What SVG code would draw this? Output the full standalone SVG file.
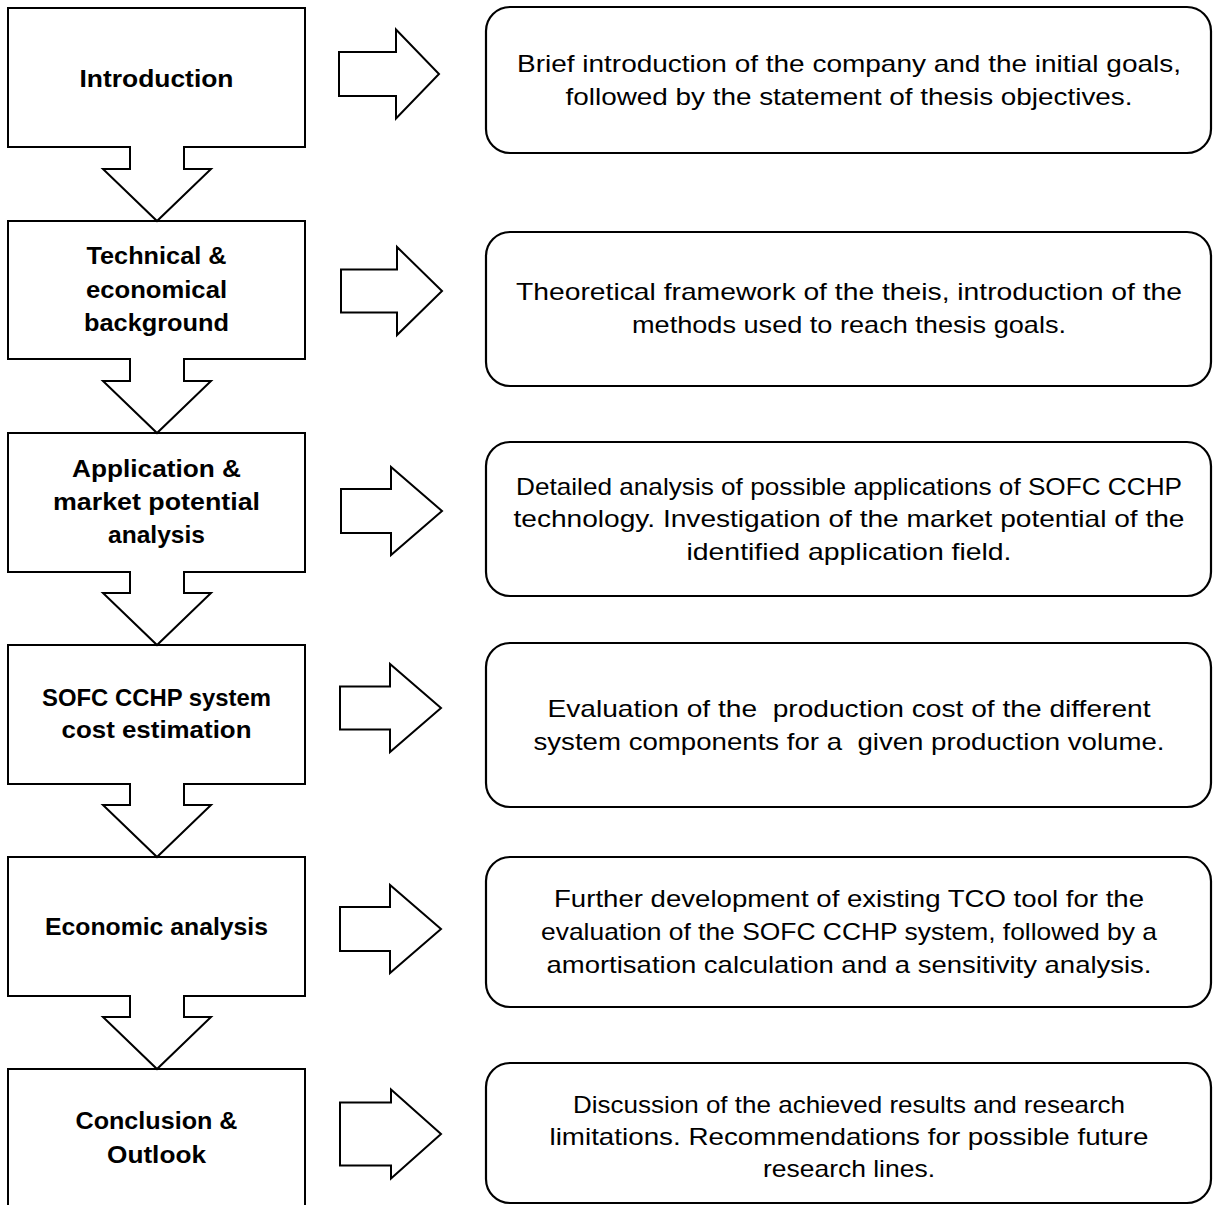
<svg xmlns="http://www.w3.org/2000/svg" width="1213" height="1205" viewBox="0 0 1213 1205">
<style>
.box{fill:#fff;stroke:#000;stroke-width:2}
.rbox{fill:#fff;stroke:#000;stroke-width:2.2}
.arr{fill:#fff;stroke:#000;stroke-width:2;stroke-linejoin:miter}
.lt{font-family:"Liberation Sans",Arial,sans-serif;font-weight:bold;font-size:24px;text-anchor:middle;fill:#000}
.rt{font-family:"Liberation Sans",Arial,sans-serif;font-size:24px;text-anchor:middle;fill:#000}
</style>
<rect width="1213" height="1205" fill="#fff"/>

<g id="step-introduction">
<rect class="box" x="8" y="8" width="297" height="139"/>
<text class="lt" x="156.5" y="87" textLength="154" lengthAdjust="spacingAndGlyphs">Introduction</text>
</g>
<g id="step-technical">
<rect class="box" x="8" y="221" width="297" height="138"/>
<text class="lt" x="156.5" y="264" textLength="140" lengthAdjust="spacingAndGlyphs">Technical &amp;</text>
<text class="lt" x="156.5" y="298" textLength="141" lengthAdjust="spacingAndGlyphs">economical</text>
<text class="lt" x="156.5" y="331" textLength="145" lengthAdjust="spacingAndGlyphs">background</text>
</g>
<g id="step-application">
<rect class="box" x="8" y="433" width="297" height="139"/>
<text class="lt" x="156.5" y="477" textLength="169" lengthAdjust="spacingAndGlyphs">Application &amp;</text>
<text class="lt" x="156.5" y="510" textLength="207" lengthAdjust="spacingAndGlyphs">market potential</text>
<text class="lt" x="156.5" y="543" textLength="97" lengthAdjust="spacingAndGlyphs">analysis</text>
</g>
<g id="step-cost">
<rect class="box" x="8" y="645" width="297" height="139"/>
<text class="lt" x="156.5" y="706" textLength="229" lengthAdjust="spacingAndGlyphs">SOFC CCHP system</text>
<text class="lt" x="156.5" y="738" textLength="190" lengthAdjust="spacingAndGlyphs">cost estimation</text>
</g>
<g id="step-economic">
<rect class="box" x="8" y="857" width="297" height="139"/>
<text class="lt" x="156.5" y="935" textLength="223" lengthAdjust="spacingAndGlyphs">Economic analysis</text>
</g>
<g id="step-conclusion">
<rect class="box" x="8" y="1069" width="297" height="150"/>
<text class="lt" x="156.5" y="1129" textLength="162" lengthAdjust="spacingAndGlyphs">Conclusion &amp;</text>
<text class="lt" x="156.5" y="1163" textLength="99" lengthAdjust="spacingAndGlyphs">Outlook</text>
</g>

<g id="desc-introduction">
<rect class="rbox" x="486" y="7" width="725" height="146" rx="24" ry="24"/>
<text class="rt" x="849" y="72" textLength="664" lengthAdjust="spacingAndGlyphs">Brief introduction of the company and the initial goals,</text>
<text class="rt" x="849" y="105" textLength="567" lengthAdjust="spacingAndGlyphs">followed by the statement of thesis objectives.</text>
</g>
<g id="desc-technical">
<rect class="rbox" x="486" y="232" width="725" height="154" rx="24" ry="24"/>
<text class="rt" x="849" y="300" textLength="666" lengthAdjust="spacingAndGlyphs">Theoretical framework of the theis, introduction of the</text>
<text class="rt" x="849" y="333" textLength="434" lengthAdjust="spacingAndGlyphs">methods used to reach thesis goals.</text>
</g>
<g id="desc-application">
<rect class="rbox" x="486" y="442" width="725" height="154" rx="24" ry="24"/>
<text class="rt" x="849" y="495" textLength="666" lengthAdjust="spacingAndGlyphs">Detailed analysis of possible applications of SOFC CCHP</text>
<text class="rt" x="849" y="527" textLength="671" lengthAdjust="spacingAndGlyphs">technology. Investigation of the market potential of the</text>
<text class="rt" x="849" y="560" textLength="325" lengthAdjust="spacingAndGlyphs">identified application field.</text>
</g>
<g id="desc-cost">
<rect class="rbox" x="486" y="643" width="725" height="164" rx="24" ry="24"/>
<text class="rt" x="849" y="717" textLength="603" lengthAdjust="spacingAndGlyphs" xml:space="preserve">Evaluation of the  production cost of the different</text>
<text class="rt" x="849" y="750" textLength="631" lengthAdjust="spacingAndGlyphs" xml:space="preserve">system components for a  given production volume.</text>
</g>
<g id="desc-economic">
<rect class="rbox" x="486" y="857" width="725" height="150" rx="24" ry="24"/>
<text class="rt" x="849" y="907" textLength="590" lengthAdjust="spacingAndGlyphs">Further development of existing TCO tool for the</text>
<text class="rt" x="849" y="940" textLength="616" lengthAdjust="spacingAndGlyphs">evaluation of the SOFC CCHP system, followed by a</text>
<text class="rt" x="849" y="973" textLength="605" lengthAdjust="spacingAndGlyphs">amortisation calculation and a sensitivity analysis.</text>
</g>
<g id="desc-conclusion">
<rect class="rbox" x="486" y="1063" width="725" height="140" rx="24" ry="24"/>
<text class="rt" x="849" y="1113" textLength="552" lengthAdjust="spacingAndGlyphs">Discussion of the achieved results and research</text>
<text class="rt" x="849" y="1145" textLength="599" lengthAdjust="spacingAndGlyphs">limitations. Recommendations for possible future</text>
<text class="rt" x="849" y="1177" textLength="172" lengthAdjust="spacingAndGlyphs">research lines.</text>
</g>

<g id="connectors">
<path class="arr" d="M130,146 L130,169 L103,169 L157,221 L211,169 L184,169 L184,146"/>
<path class="arr" d="M130,358 L130,381 L103,381 L157,433 L211,381 L184,381 L184,358"/>
<path class="arr" d="M130,571 L130,593 L103,593 L157,645 L211,593 L184,593 L184,571"/>
<path class="arr" d="M130,783 L130,805 L103,805 L157,857 L211,805 L184,805 L184,783"/>
<path class="arr" d="M130,995 L130,1017 L103,1017 L157,1069 L211,1017 L184,1017 L184,995"/>
<path class="arr" d="M339,52 L396,52 L396,29.5 L439,74 L396,118.5 L396,96 L339,96 Z"/>
<path class="arr" d="M341,269.5 L397,269.5 L397,247 L442,291 L397,335 L397,312.5 L341,312.5 Z"/>
<path class="arr" d="M341,489 L391,489 L391,467 L442,511 L391,555 L391,533 L341,533 Z"/>
<path class="arr" d="M340,686.5 L390,686.5 L390,664 L441,708 L390,752 L390,729.5 L340,729.5 Z"/>
<path class="arr" d="M340,907 L390,907 L390,885 L441,929 L390,973 L390,951 L340,951 Z"/>
<path class="arr" d="M340,1102.5 L391,1102.5 L391,1089.5 L441,1134 L391,1178.5 L391,1165.5 L340,1165.5 Z"/>
</g>
</svg>
